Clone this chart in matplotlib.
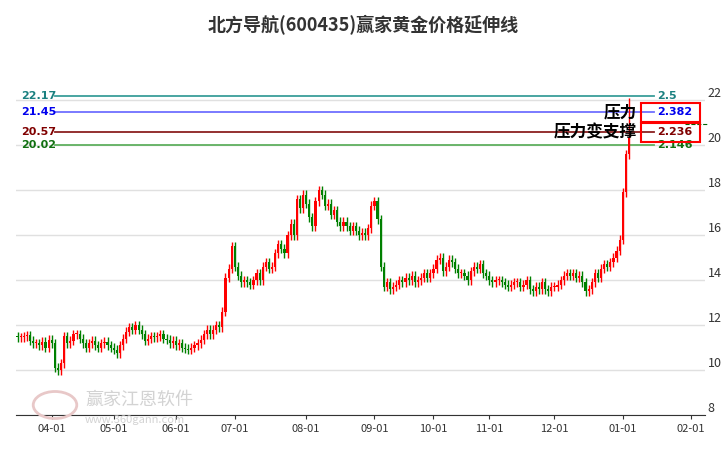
import matplotlib
matplotlib.use("Agg")
import matplotlib.pyplot as plt
import numpy as np
import pandas as pd
from matplotlib.patches import Rectangle

plt.rcParams['font.family'] = ['Noto Sans CJK SC', 'DejaVu Sans']

closes_mar = [11.45,11.45,11.5,11.55,11.3,11.2,11.2,11.1,11.25,11.0,11.35]
closes_apr = [11.2,10.1,10.0,10.3,11.5,11.2,11.3,11.6,11.6,11.4,11.2,11.0,11.2,11.3,11.1,11.0,11.2,11.25,11.1,11.0]
closes_may = [10.9,10.75,11.1,11.4,11.7,11.9,11.8,12.0,11.8,11.6,11.3,11.4,11.5,11.45,11.5,11.6,11.4,11.35,11.2,11.3]
closes_jun = [11.1,11.2,11.0,10.95,10.9,11.0,11.1,11.2,11.35,11.6,11.8,11.6,11.8,12.0,11.9,12.6,14.1,14.5,15.5]
closes_jul = [14.6,14.2,13.9,14.0,13.9,13.8,14.0,14.3,14.0,14.6,14.8,14.5,14.6,15.2,15.6,15.4,15.2,16.0,16.5,16.0,17.6,17.2,17.8]
closes_aug = [17.4,16.8,16.4,17.5,18.0,17.8,17.3,17.4,16.9,17.1,16.6,16.4,16.6,16.4,16.2,16.4,16.2,16.0,16.1,16.0,16.3,17.3]
closes_sep = [17.5,16.7,14.6,13.7,13.9,13.6,13.7,13.8,14.0,13.9,14.1,14.0,14.2,13.9,14.0,14.1,14.3,14.1,14.3]
closes_oct = [14.5,14.9,15.0,14.4,14.6,14.9,14.8,14.5,14.3,14.3,14.2,14.0,14.4,14.6,14.5,14.7,14.3,14.2]
closes_nov = [14.0,13.9,14.0,14.0,13.9,13.8,13.7,13.8,13.9,13.9,13.7,13.8,14.0,13.6,13.5,13.7,13.6,13.9,13.6,13.5,13.7]
closes_dec = [13.7,13.8,14.0,14.2,14.3,14.2,14.3,14.1,14.2,13.9,13.5,13.6,13.9,14.3,14.1,14.5,14.7,14.6,14.8,15.0,15.3,15.8]
closes_jan = [17.9,19.6,20.3]
first_open = 11.5
last_high = 22.1

level_prices = [22.17, 21.45, 20.57, 20.02]
level_labels = ['2.5', '2.382', '2.236', '2.146']
level_colors = ['#3a9e9a', '#7070ff', '#8b2020', '#60b060']
label_colors = ['#1a8080', '#0000ee', '#800000', '#107010']
boxed = [False, True, True, False]
month_labels = ['04-01','05-01','06-01','07-01','08-01','09-01','10-01','11-01','12-01','01-01','02-01']

closes = np.array(closes_mar+closes_apr+closes_may+closes_jun+closes_jul+closes_aug+
                  closes_sep+closes_oct+closes_nov+closes_dec+closes_jan)
opens = np.concatenate([[first_open], closes[:-1]])
highs = np.maximum(opens, closes) + 0.2
lows = np.minimum(opens, closes) - 0.2
highs[-1] = last_high

hol = pd.to_datetime(['2024-04-04','2024-04-05','2024-05-01','2024-05-02','2024-05-03','2024-06-10',
                      '2024-09-16','2024-09-17','2024-10-01','2024-10-02','2024-10-03','2024-10-04',
                      '2024-10-07','2025-01-01'])
days = pd.bdate_range('2024-03-15', '2025-03-10')
days = days[~days.isin(hol)]
n = len(closes)

fig = plt.figure(figsize=(7.26, 4.5), dpi=100)
ax = fig.add_axes([16/726, 35/450, (705-16)/726, (415-60)/450])
ax.set_xlim(-0.5, 221.5)
ax.set_ylim(8, 23.78)

for i in range(n):
    up = closes[i] >= opens[i]
    c = '#ff0000' if up else '#008000'
    ax.vlines(i, lows[i], highs[i], color=c, lw=1, zorder=3)
    b = min(opens[i], closes[i]); h = max(abs(closes[i]-opens[i]), 0.05)
    ax.add_patch(Rectangle((i-0.35, b), 0.7, h, color=c, lw=0, zorder=3))

for p, lab, lc, tc, bx in zip(level_prices, level_labels, level_colors, label_colors, boxed):
    ax.plot([12, 205], [p, p], color=lc, lw=1.3, zorder=2)
    ax.text(12.5, p, f'{p:.2f}', color=tc, fontsize=8, fontweight='bold', ha='right', va='center',
            family='DejaVu Sans')
    ax.text(206, p, lab, color=tc, fontsize=8, fontweight='bold', ha='left', va='center',
            family='DejaVu Sans')
    if bx:
        ax.add_patch(Rectangle((201, p-0.42), 19, 0.84, fill=False, ec='#ff0000', lw=1.5, zorder=4))
ax.plot([215, 222], [20.93, 20.93], color='#006000', lw=0.8, ls='--', clip_on=False)
ax.text(199.5, 21.45, '压力', fontsize=12, fontweight='bold', ha='right', va='center', zorder=5)
ax.text(199.5, 20.57, '压力变支撑', fontsize=12, fontweight='bold', ha='right', va='center', zorder=5)

mt = []
for m in pd.date_range('2024-04-01', '2025-02-01', freq='MS'):
    mt.append(int(np.searchsorted(days, m)))
ax.set_xticks(mt)
ax.set_xticklabels(month_labels, fontsize=8, color='#333333')
ax.yaxis.tick_right()
ax.set_yticks(range(8, 24, 2))
ax.set_yticklabels([str(v) for v in range(8, 24, 2)], fontsize=9, color='#333333', va='bottom')
ax.tick_params(axis='y', length=0, pad=2)
ax.tick_params(axis='x', length=3, color='#333333')
ax.grid(axis='y', color='#e0e0e0', lw=1)
for s in ['top', 'right', 'left']:
    ax.spines[s].set_visible(False)
ax.spines['bottom'].set_color('#333333')

fig.text(0.5, 1-25/450, '北方导航(600435)赢家黄金价格延伸线', ha='center', va='center',
         fontsize=13, fontweight='bold', color='#333333')
fig.text(85/726, 1-400/450, '赢家江恩软件', fontsize=13, color='#c8c8c8', va='center', alpha=0.8)
fig.text(85/726, 1-420/450, 'www.360gann.com', fontsize=8, color='#c8c8c8', va='center', alpha=0.8)
fig.patches.append(plt.Circle((55/726, 1-405/450), 0.03, transform=fig.transFigure,
                              fill=False, ec='#e8c8c8', lw=2))
fig.savefig('out.png', dpi=100)
